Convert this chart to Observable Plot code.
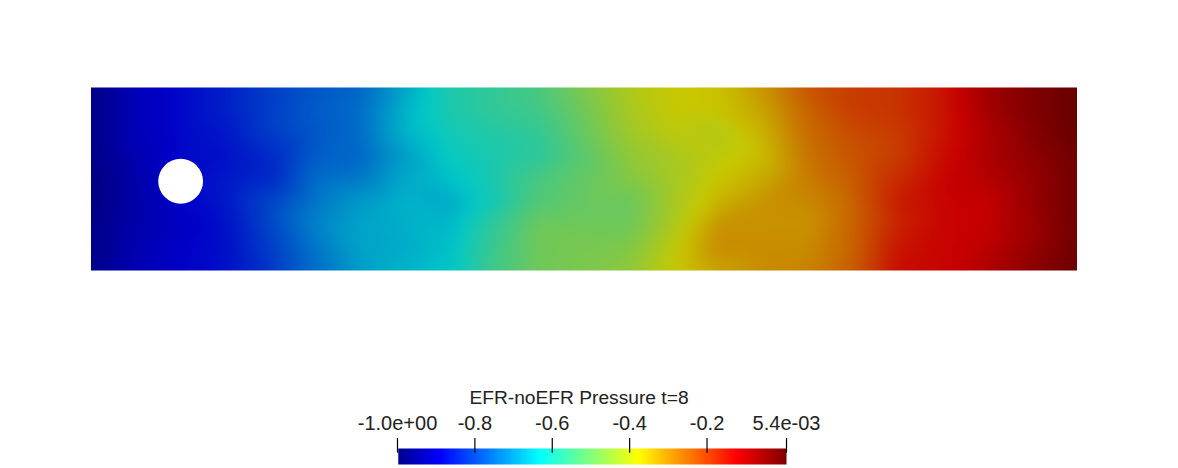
<!DOCTYPE html>
<html>
<head>
<meta charset="utf-8">
<script src="https://cdn.jsdelivr.net/npm/d3@7"></script>
<script src="https://cdn.jsdelivr.net/npm/@observablehq/plot@0.6"></script>
<style>
  html, body { margin: 0; padding: 0; background: #fff; }
  svg { display: block; }
</style>
</head>
<body>
<div id="chart"></div>
<script>
// Channel geometry (x 0..2.2, y 0..0.41), obstacle at (0.2, 0.2)
const xs = [0,0.1,0.2,0.3,0.4,0.5,0.6,0.7,0.8,0.9,1.0,1.1,1.2,1.3,1.4,1.5,1.6,1.7,1.8,1.9,2.0,2.1,2.2];
const ys = [0.41,0.35875,0.3075,0.25625,0.205,0.15375,0.1025,0.05125,0];
const obstacle = [{x: 0.2, y: 0.2}];

// Pressure difference, one row per y, top to bottom
const row0 = [-.98,-.91,-.88,-.85,-.81,-.78,-.76,-.68,-.595,-.57,-.54,-.47,-.41,-.38,-.37,-.31,-.23,-.20,-.19,-.15,-.07,-.03,0];
const row1 = [-.98,-.91,-.88,-.85,-.81,-.77,-.75,-.66,-.60,-.57,-.55,-.49,-.42,-.38,-.37,-.33,-.25,-.20,-.19,-.15,-.08,-.03,0];
const row2 = [-.98,-.91,-.88,-.86,-.81,-.78,-.75,-.66,-.61,-.59,-.57,-.50,-.43,-.39,-.41,-.35,-.26,-.22,-.20,-.15,-.09,-.04,0];
const row3 = [-.98,-.92,-.88,-.87,-.84,-.77,-.76,-.69,-.62,-.60,-.58,-.52,-.45,-.42,-.39,-.36,-.27,-.23,-.20,-.14,-.09,-.05,-.01];
const row4 = [-.99,-.93,-.88,-.86,-.84,-.75,-.735,-.67,-.64,-.60,-.54,-.505,-.465,-.42,-.375,-.34,-.28,-.24,-.18,-.13,-.10,-.06,-.01];
const row5 = [-.99,-.93,-.89,-.86,-.80,-.74,-.69,-.66,-.675,-.61,-.53,-.50,-.50,-.42,-.35,-.31,-.30,-.25,-.16,-.13,-.12,-.06,-.01];
const row6 = [-.98,-.93,-.90,-.87,-.80,-.72,-.68,-.665,-.655,-.57,-.49,-.49,-.495,-.415,-.31,-.31,-.31,-.25,-.17,-.13,-.12,-.07,-.01];
const row7 = [-.98,-.92,-.89,-.87,-.81,-.74,-.68,-.67,-.645,-.555,-.49,-.48,-.47,-.39,-.30,-.30,-.30,-.25,-.15,-.13,-.11,-.06,-.01];
const row8 = [-.97,-.92,-.89,-.87,-.82,-.75,-.69,-.66,-.635,-.55,-.49,-.475,-.45,-.385,-.33,-.30,-.29,-.24,-.14,-.13,-.09,-.05,0];
const rows = [row0,row1,row2,row3,row4,row5,row6,row7,row8];

const samples = rows.flatMap((r, j) => r.map((v, i) => ({x: xs[i], y: ys[j], v})));

// Colour map
const stops = [-1,-0.889,-0.633,-0.377,-0.125,0.0054];
const barColors = ["#00008f","#0000ff","#00ffff","#ffff00","#ff0000","#800000"];
const fieldColors = ["#000078","#0000c8","#00c8c8","#c8c800","#c80000","#640000"];

const tickValues = [-1,-0.8,-0.6,-0.4,-0.2,0.0054];
const tickLabels = ["-1.0e+00","-0.8","-0.6","-0.4","-0.2","5.4e-03"];
const title = "EFR-noEFR Pressure t=8";
const font = "'Liberation Sans', Arial, sans-serif";

const field = Plot.plot({
  width: 1178, height: 360,
  marginLeft: 90.5, marginRight: 101.5, marginTop: 87, marginBottom: 90,
  x: {domain: [0, 2.2], axis: null},
  y: {domain: [0, 0.41], axis: null},
  color: {type: "linear", domain: stops, range: fieldColors, interpolate: "rgb"},
  marks: [
    Plot.raster(samples, {x: "x", y: "y", fill: "v", interpolate: "barycentric", pixelSize: 1, blur: 7}),
    Plot.dot(obstacle, {x: "x", y: "y", r: 22.4, fill: "white"})
  ]
});

const bar = Plot.plot({
  width: 1178, height: 108,
  marginLeft: 397, marginRight: 392, marginTop: 78, marginBottom: 4,
  style: {background: "transparent"},
  x: {domain: [-1, 0.0054], axis: null},
  y: {domain: [26, 0], axis: null},
  color: {type: "linear", domain: stops, range: barColors, interpolate: "rgb"},
  marks: [
    Plot.raster({fill: (x, y) => x, x1: -0.998, x2: 0.0054, y1: 10, y2: 26, pixelSize: 1, width: 388, height: 16}),
    Plot.ruleX(tickValues, {y1: 0, y2: 14.7, stroke: "black", strokeWidth: 1.2}),
    Plot.text(tickValues, {x: d => d, text: (d, i) => tickLabels[i], frameAnchor: "top", lineAnchor: "bottom", dy: -9, fontSize: 20, fontFamily: font, fill: "#222", fontWeight: 300}),
    Plot.text([title], {frameAnchor: "top", lineAnchor: "bottom", dy: -35, dx: -13, fontSize: 19.2, fontFamily: font, fill: "#222", fontWeight: 300})
  ]
});

document.getElementById("chart").append(field, bar);
</script>
</body>
</html>
